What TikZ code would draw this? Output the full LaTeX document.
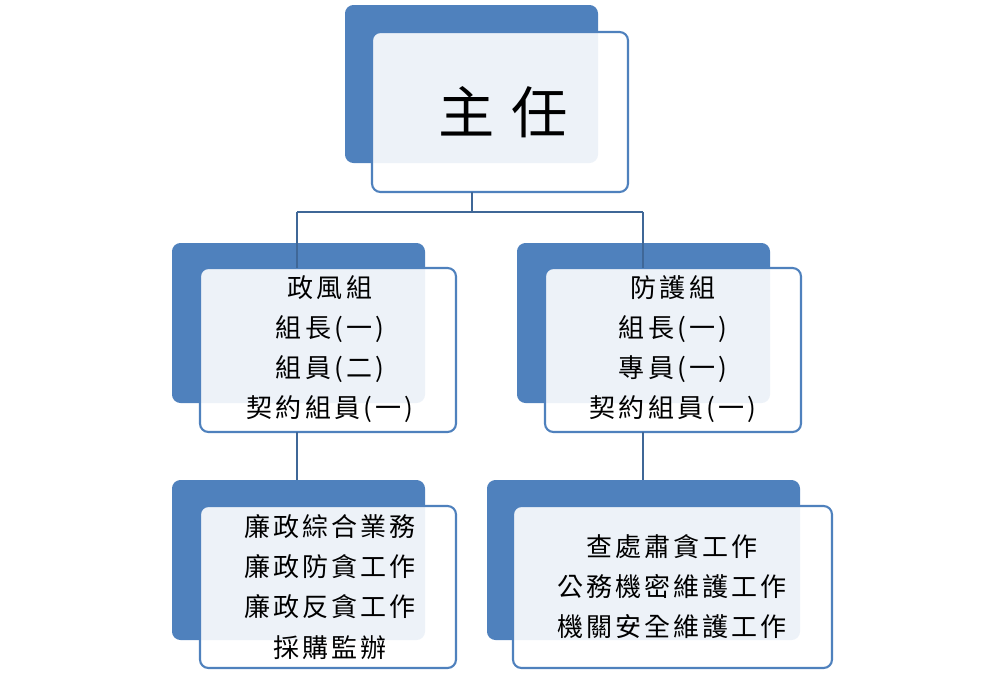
\documentclass[tikz,border=0pt]{standalone}
\usepackage{fontspec}
\setmainfont{Noto Sans CJK TC}[LetterSpace=12]
\definecolor{accent}{HTML}{4F81BD}
\definecolor{linkblue}{HTML}{3F6797}
\begin{document}
\begin{tikzpicture}[x=0.025cm,y=-0.025cm]
        % Styles
        \tikzset{
          backbox/.style={fill=accent, rounded corners=6pt},
          frontbox/.style={draw=accent, line width=1.5pt, fill=white, fill opacity=0.9, rounded corners=6pt},
          label/.style={align=center, font=\fontsize{18.5}{28.5}\selectfont, text opacity=1},
          link/.style={draw=linkblue, line width=2pt}
        }
        \useasboundingbox (0,0) rectangle (1002,673);

        % Boîtes
        \fill[backbox] (345,5) rectangle (598,163);
        \draw[frontbox] (372,32) rectangle (628,192);
        \node[label, font=\fontsize{40}{46}\selectfont] (chief) at (503,112) {主\hspace{0.3em}任};

        \fill[backbox] (172,243) rectangle (425,403);
        \draw[frontbox] (200,268) rectangle (456,432);
        \node[label] (ethics) at (330,349) {政風組\\組長(一)\\組員(二)\\契約組員(一)};

        \fill[backbox] (517,243) rectangle (770,403);
        \draw[frontbox] (545,268) rectangle (801,432);
        \node[label] (guard) at (673,349) {防護組\\組長(一)\\專員(一)\\契約組員(一)};

        \fill[backbox] (172,480) rectangle (425,640);
        \draw[frontbox] (200,506) rectangle (456,668);
        \node[label] (ethicsduty) at (330,587) {廉政綜合業務\\廉政防貪工作\\廉政反貪工作\\採購監辦};

        \fill[backbox] (487,480) rectangle (800,640);
        \draw[frontbox] (513,506) rectangle (832,668);
        \node[label] (guardduty) at (672,587) {查處肅貪工作\\公務機密維護工作\\機關安全維護工作};

        % Liens
        \coordinate (top) at (472,192);
        \coordinate (bar) at (472,212);
        \coordinate (left) at (297,268);
        \coordinate (right) at (643,268);
        \draw[link] (top) -- (bar);
        \draw[link] (left |- bar) -- (right |- bar);
        \draw[link] (left |- bar) -- (left);
        \draw[link] (right |- bar) -- (right);
        \coordinate (lowl) at (297,432);
        \coordinate (lowr) at (643,432);
        \draw[link] (lowl) -- ++(0,48);
        \draw[link] (lowr) -- ++(0,48);
\end{tikzpicture}
\end{document}
